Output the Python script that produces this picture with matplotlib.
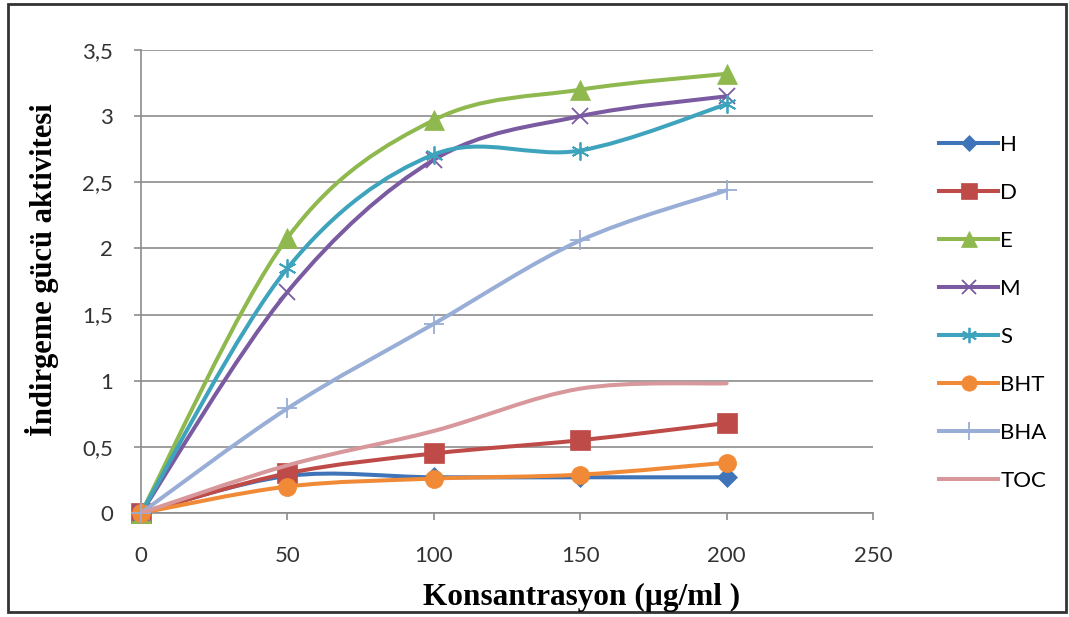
import matplotlib.pyplot as plt
from matplotlib.path import Path
from matplotlib.patches import PathPatch, Rectangle
from matplotlib.lines import Line2D
import numpy as np

konsantrasyon = [0, 50, 100, 150, 200]

H = [0, 0.28, 0.27, 0.27, 0.27]
D = [0, 0.30, 0.45, 0.55, 0.68]
E = [0, 2.08, 2.97, 3.20, 3.32]
M = [0, 1.67, 2.67, 3.00, 3.15]
S = [0, 1.85, 2.71, 2.74, 3.09]
BHT = [0, 0.20, 0.26, 0.29, 0.38]
BHA = [0, 0.79, 1.43, 2.06, 2.44]
TOC = [0, 0.36, 0.62, 0.94, 0.98]

seriler = ['H', 'D', 'E', 'M', 'S', 'BHT', 'BHA', 'TOC']
degerler = [H, D, E, M, S, BHT, BHA, TOC]
renkler = ['#3f74b8', '#be4b48', '#8fb84f', '#7a5aa0', '#3ea3bd', '#f08a36', '#98aed6', '#d7979b']
isaretler = ['D', 's', '^', 'x', (6, 2, 0), 'o', '+', None]
boyutlar = [10, 14, 14, 12, 13, 13, 15, 0]


def excel_egri(x, y):
    """Excel'deki yumusak cizgiye benzer Bezier yolu"""
    pts = np.column_stack([x, y]).astype(float)
    n = len(pts)
    verts = [pts[0]]
    codes = [Path.MOVETO]
    for i in range(n - 1):
        p0 = pts[i - 1] if i > 0 else pts[i]
        p1 = pts[i]
        p2 = pts[i + 1]
        p3 = pts[i + 2] if i + 2 < n else pts[i + 1]
        c1 = p1 + (p2 - p0) / 6.0
        c2 = p2 - (p3 - p1) / 6.0
        verts += [c1, c2, p2]
        codes += [Path.CURVE4] * 3
    return Path(verts, codes)


W, Hpx = 1069, 617
fig = plt.figure(figsize=(W / 100, Hpx / 100), dpi=100)
ax = fig.add_axes([141 / W, 1 - 513 / Hpx, (873 - 141) / W, (513 - 50) / Hpx])

fig.patches.append(Rectangle((8 / W, 1 - 612 / Hpx), 1058 / W, 608 / Hpx,
                             transform=fig.transFigure, fill=False, edgecolor='#333333', lw=2))

for ad, y, c, m, ms in zip(seriler, degerler, renkler, isaretler, boyutlar):
    ax.add_patch(PathPatch(excel_egri(konsantrasyon, y), fill=False, edgecolor=c, lw=2.9,
                           capstyle='round', joinstyle='round', zorder=3))
    if m is not None:
        ince = m in ('x', '+') or isinstance(m, tuple)
        ax.plot(konsantrasyon, y, linestyle='none', marker=m, markersize=ms, color=c,
                markeredgewidth=1.3 if ince else 0.5, zorder=3, clip_on=False)

ax.set_xlim(0, 250)
ax.set_ylim(0, 3.5)
ax.set_xticks([0, 50, 100, 150, 200, 250])
ax.set_yticks([0, 0.5, 1, 1.5, 2, 2.5, 3, 3.5])
ax.set_yticklabels(['0', '0,5', '1', '1,5', '2', '2,5', '3', '3,5'])
ax.grid(axis='y', color='#8c8c8c', lw=1.2)
ax.set_axisbelow(True)
for s in ['top', 'right']:
    ax.spines[s].set_visible(False)
for s in ['left', 'bottom']:
    ax.spines[s].set_color('#8c8c8c')
    ax.spines[s].set_linewidth(1.2)
ax.tick_params(direction='out', length=5, color='#8c8c8c', width=1.2,
               labelsize=16, labelcolor='#333333')
ax.tick_params(axis='y', pad=15)
ax.tick_params(axis='x', pad=19)
for lab in ax.get_xticklabels() + ax.get_yticklabels():
    lab.set_family('Lato')

fig.text(42 / W, 1 - 270 / Hpx, 'İndirgeme gücü aktivitesi', family='Liberation Serif',
         weight='bold', fontsize=22, rotation=90, ha='center', va='center')
fig.text(582 / W, 1 - 597 / Hpx, 'Konsantrasyon (µg/ml )', family='Liberation Serif',
         weight='bold', fontsize=22.5, ha='center', va='center')

tutamaclar = []
for ad, c, m, ms in zip(seriler, renkler, isaretler, boyutlar):
    ince = m in ('x', '+') or isinstance(m, tuple)
    tutamaclar.append(Line2D([], [], color=c, lw=2.9, marker=m, markersize=ms * 0.85,
                             markeredgewidth=1.3 if ince else 0.5, label=ad))
leg = fig.legend(handles=tutamaclar, loc='upper left', bbox_to_anchor=(928 / W, 1 - 124 / Hpx),
                 frameon=False, handlelength=2.65, handletextpad=0.1, labelspacing=1.26,
                 borderpad=0, prop={'family': 'Lato', 'size': 16})

fig.savefig('out.png', dpi=100)
